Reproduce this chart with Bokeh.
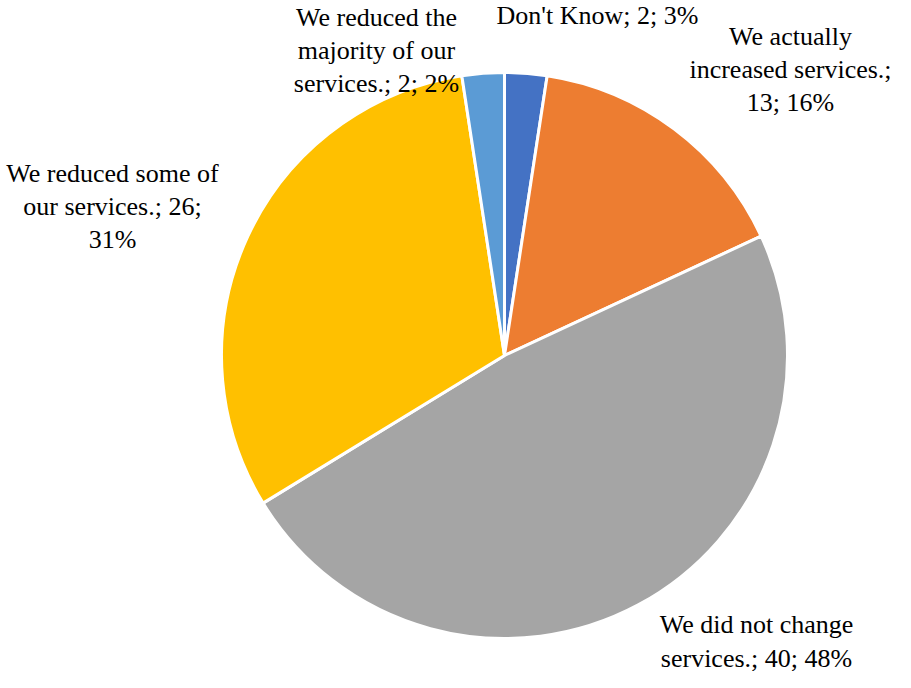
import math
from bokeh.plotting import figure
from bokeh.models import ColumnDataSource, Range1d
from bokeh.core.properties import value
from bokeh.embed import file_html
from bokeh.resources import INLINE

# ---- data ----
categories = [
    "Don't Know",
    "We actually increased services.",
    "We did not change services.",
    "We reduced some of our services.",
    "We reduced the majority of our services.",
]
counts = [2, 13, 40, 26, 2]
percent_labels = ["3%", "16%", "48%", "31%", "2%"]
colors = ["#4472C4", "#ED7D31", "#A5A5A5", "#FFC000", "#5B9BD5"]

# label text with the line breaks used in the picture
label_lines = [
    ["Don't Know; 2; 3%"],
    ["We actually", "increased services.;", "13; 16%"],
    ["We did not change", "services.; 40; 48%"],
    ["We reduced some of", "our services.; 26;", "31%"],
    ["We reduced the", "majority of our", "services.; 2; 2%"],
]

# ---- layout ----
W, H = 895, 672
CX, CY, R = 504, 317, 283
# label block centres relative to pie centre (pixels, y up)
label_offsets = [(93, 340), (286, 286), (252, -286), (-392, 149), (-128, 305)]

total = sum(counts)
starts, ends = [], []
cum = 0
for c in counts:
    starts.append(math.pi / 2 - 2 * math.pi * cum / total)
    cum += c
    ends.append(math.pi / 2 - 2 * math.pi * cum / total)

src = ColumnDataSource(dict(
    x=[CX] * len(counts), y=[CY] * len(counts),
    start=starts, end=ends, color=colors, cat=categories, n=counts,
))

p = figure(width=W, height=H, output_backend="svg", toolbar_location=None,
           x_range=Range1d(0, W), y_range=Range1d(0, H), min_border=0)
p.axis.visible = False
p.grid.visible = False
p.outline_line_color = None
p.background_fill_color = "white"
p.border_fill_color = "white"

p.wedge(x="x", y="y", radius=R, start_angle="start", end_angle="end",
        direction="clock", fill_color="color", line_color="white",
        line_width=3, source=src)

texts = ["\n".join(lines) for lines in label_lines]
lx = [CX + dx for dx, dy in label_offsets]
ly = [CY + dy for dx, dy in label_offsets]
p.text(x=lx, y=ly, text=texts, text_align="center", text_baseline="middle",
       text_font=value("Liberation Serif"), text_font_size="26px",
       text_line_height=1.15, text_color="black")

open("out.html", "w").write(file_html(p, INLINE))
